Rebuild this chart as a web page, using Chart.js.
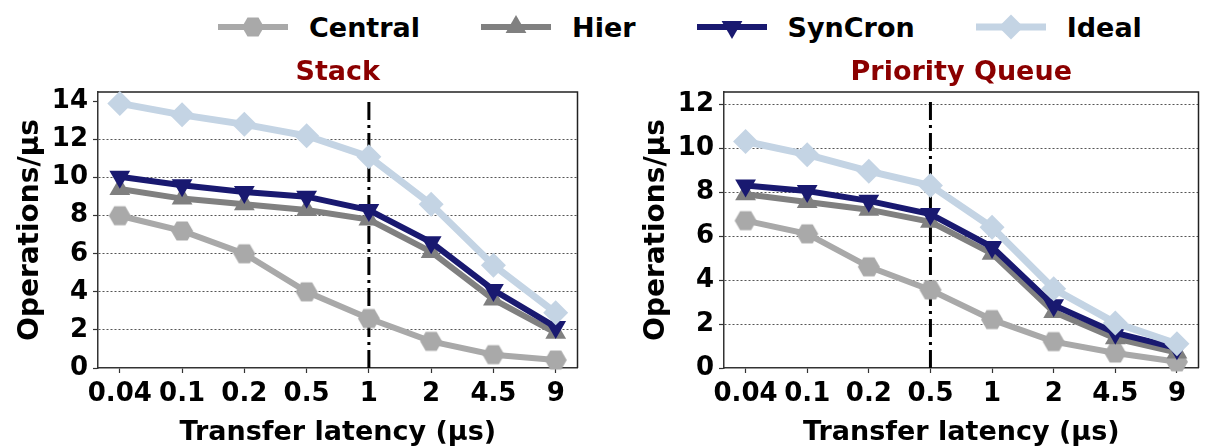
<!DOCTYPE html>
<html>
<head>
<meta charset="utf-8">
<script src="https://cdn.jsdelivr.net/npm/chart.js@4.4.1/dist/chart.umd.min.js"></script>
<style>
body { margin: 0; background: #fff; width: 1211px; height: 446px; overflow: hidden; position: relative; }
#legend { position: absolute; left: 218px; top: 10px; height: 34px; display: flex; align-items: center; }
.item { display: flex; align-items: center; margin-right: 61px; }
.item canvas { margin-right: 21px; }
.item span { font: bold 27px "DejaVu Sans"; color: #000; }
#c1 { position: absolute; left: 0; top: 0; }
#c2 { position: absolute; left: 626px; top: 0; }
</style>
</head>
<body>
<div id="legend"></div>
<canvas id="c1" width="590" height="446"></canvas>
<canvas id="c2" width="585" height="446"></canvas>
<script>
// x categories: transfer latency (µs)
const categories = ['0.04', '0.1', '0.2', '0.5', '1', '2', '4.5', '9'];
const seriesNames = ['Central', 'Hier', 'SynCron', 'Ideal'];
const seriesColors = ['#a9a9a9', '#808080', '#191970', '#c4d4e4'];

// Stack (operations/µs)
const stackCentral = [8.0, 7.2, 6.0, 4.0, 2.6, 1.4, 0.7, 0.42];
const stackHier = [9.4, 8.9, 8.6, 8.3, 7.8, 6.1, 3.6, 1.85];
const stackSynCron = [10.05, 9.6, 9.25, 9.0, 8.3, 6.6, 4.1, 2.15];
const stackIdeal = [13.9, 13.3, 12.8, 12.2, 11.1, 8.6, 5.4, 2.9];

// Priority Queue (operations/µs)
const pqCentral = [6.7, 6.1, 4.6, 3.55, 2.2, 1.2, 0.68, 0.28];
const pqHier = [7.9, 7.55, 7.2, 6.65, 5.2, 2.55, 1.35, 0.7];
const pqSynCron = [8.3, 8.05, 7.6, 7.0, 5.5, 2.85, 1.6, 0.9];
const pqIdeal = [10.3, 9.7, 8.95, 8.3, 6.4, 3.6, 2.05, 1.1];

// dash-dot marker line (category index)
const stackDivider = 4;
const pqDivider = 3;

const FONT = 'DejaVu Sans';

function hexagon(r, color) {
    let c = document.createElement('canvas');
    c.width = c.height = 2 * r + 2;
    let g = c.getContext('2d');
    g.fillStyle = color;
    g.beginPath();
    for (let k = 0; k < 6; k++) {
        let a = k * Math.PI / 3;
        g.lineTo(r + 1 + r * Math.cos(a), r + 1 + r * Math.sin(a));
    }
    g.closePath();
    g.fill();
    return c;
}

const markers = [
    {pointStyle: hexagon(11, seriesColors[0]), radius: 11, rotation: 0, width: 6},
    {pointStyle: 'triangle', radius: 12, rotation: 0, width: 6},
    {pointStyle: 'triangle', radius: 12, rotation: 180, width: 6},
    {pointStyle: 'rectRot', radius: 12.5, rotation: 0, width: 7}
];

function toPoints(values) {
    return values.map((v, i) => ({x: i, y: v}));
}

function makeDatasets(series, divider, lineTop) {
    let sets = series.map((values, k) => ({
        label: seriesNames[k],
        data: toPoints(values),
        borderColor: seriesColors[k],
        backgroundColor: seriesColors[k],
        borderWidth: markers[k].width,
        pointStyle: markers[k].pointStyle,
        pointRadius: markers[k].radius,
        pointRotation: markers[k].rotation,
        pointBorderWidth: 0,
        pointBackgroundColor: seriesColors[k],
        order: 4 - k,
        clip: false
    }));
    sets.push({
        label: 'divider',
        data: [{x: divider, y: 0}, {x: divider, y: lineTop}],
        borderColor: '#000',
        borderWidth: 3,
        borderDash: [18, 5, 3, 5],
        pointRadius: 0,
        order: 10
    });
    return sets;
}

const frame = {
    id: 'frame',
    beforeDatasetsDraw(chart) {
        let a = chart.chartArea, ctx = chart.ctx;
        ctx.save();
        ctx.strokeStyle = '#222';
        ctx.lineWidth = 1.5;
        ctx.beginPath();
        ctx.moveTo(a.left, a.top);
        ctx.lineTo(a.right, a.top);
        ctx.lineTo(a.right, a.bottom);
        ctx.stroke();
        ctx.restore();
    }
};

function makeChart(id, title, series, divider, lineTop, yMax, gridMax, rightPad) {
    let ctx = document.getElementById(id).getContext('2d');
    return new Chart(ctx, {
        type: 'line',
        data: {datasets: makeDatasets(series, divider, lineTop)},
        options: {
            responsive: false,
            animation: false,
            devicePixelRatio: 1,
            layout: {padding: {top: 57, left: 0, right: rightPad, bottom: 0}},
            plugins: {
                legend: {display: false},
                tooltip: {enabled: false},
                title: {
                    display: true,
                    text: title,
                    color: '#8b0000',
                    fullSize: false,
                    font: {family: FONT, size: 27, weight: 'bold', lineHeight: 1.2},
                    padding: {top: 0, bottom: 2.6}
                }
            },
            scales: {
                x: {
                    type: 'linear',
                    min: -0.35,
                    max: 7.35,
                    afterFit(scale) { scale.height = 78; },
                    ticks: {
                        stepSize: 1,
                        includeBounds: false,
                        autoSkip: false,
                        maxRotation: 0,
                        padding: 6,
                        color: '#000',
                        font: {family: FONT, size: 26, weight: 'bold'},
                        callback: v => categories[v] ?? ''
                    },
                    grid: {drawOnChartArea: false, drawTicks: true, tickLength: 5, tickColor: '#333', tickWidth: 1.2},
                    border: {color: '#333', width: 1.5},
                    title: {
                        display: true,
                        text: 'Transfer latency (µs)',
                        color: '#000',
                        font: {family: FONT, size: 27, weight: 'bold', lineHeight: 1},
                        padding: 0
                    }
                },
                y: {
                    min: 0,
                    max: yMax,
                    afterFit(scale) { scale.width = 98; },
                    ticks: {
                        stepSize: 2,
                        includeBounds: false,
                        padding: 5,
                        color: '#000',
                        font: {family: FONT, size: 26, weight: 'bold'}
                    },
                    grid: {
                        color: c => (c.tick && c.tick.value > 0 && c.tick.value <= gridMax) ? '#555' : 'rgba(0,0,0,0)',
                        lineWidth: 1,
                        drawTicks: true,
                        tickLength: 5,
                        tickColor: '#333',
                        tickWidth: 1.2
                    },
                    border: {color: '#333', width: 1.5, dash: [2, 2]},
                    title: {
                        display: true,
                        text: 'Operations/µs',
                        color: '#000',
                        font: {family: FONT, size: 28, weight: 'bold', lineHeight: 1},
                        padding: {top: 17, bottom: 0}
                    }
                }
            }
        },
        plugins: [frame]
    });
}

makeChart('c1', 'Stack', [stackCentral, stackHier, stackSynCron, stackIdeal], stackDivider, 14.2, 14.5, 12, 6);
makeChart('c2', 'Priority Queue', [pqCentral, pqHier, pqSynCron, pqIdeal], pqDivider, 12.3, 12.55, 12, 1);

// legend with line + marker
function drawLegendMarker(g, k, cx, cy) {
    let m = markers[k], r = m.radius;
    g.fillStyle = seriesColors[k];
    g.beginPath();
    if (k === 0) {
        for (let i = 0; i < 6; i++) {
            let a = i * Math.PI / 3;
            g.lineTo(cx + r * Math.cos(a), cy + r * Math.sin(a));
        }
    } else if (k === 3) {
        g.moveTo(cx - r, cy); g.lineTo(cx, cy - r); g.lineTo(cx + r, cy); g.lineTo(cx, cy + r);
    } else {
        let s = k === 2 ? -1 : 1;
        g.moveTo(cx, cy - s * r);
        g.lineTo(cx + r * Math.sqrt(3) / 2, cy + s * r / 2);
        g.lineTo(cx - r * Math.sqrt(3) / 2, cy + s * r / 2);
    }
    g.closePath();
    g.fill();
}

let legend = document.getElementById('legend');
seriesNames.forEach((name, k) => {
    let item = document.createElement('div');
    item.className = 'item';
    let c = document.createElement('canvas');
    c.width = 70; c.height = 30;
    let g = c.getContext('2d');
    g.strokeStyle = seriesColors[k];
    g.lineWidth = markers[k].width;
    g.beginPath();
    g.moveTo(0, 15); g.lineTo(70, 15);
    g.stroke();
    drawLegendMarker(g, k, 35, 15);
    let span = document.createElement('span');
    span.textContent = name;
    item.appendChild(c);
    item.appendChild(span);
    legend.appendChild(item);
});
</script>
</body>
</html>
